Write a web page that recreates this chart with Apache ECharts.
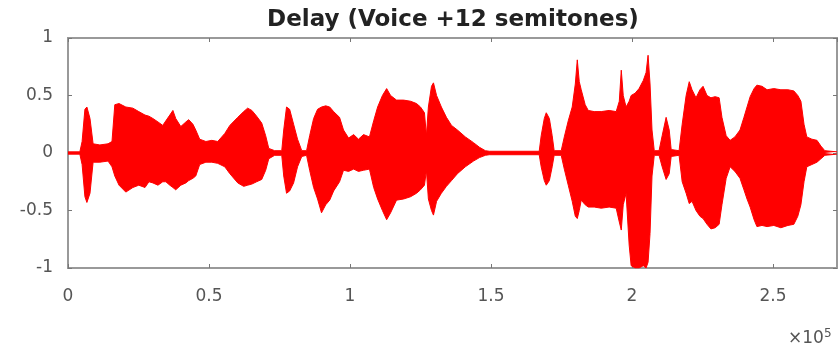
<!DOCTYPE html>
<html>
<head>
<meta charset="utf-8">
<script src="https://cdn.jsdelivr.net/npm/echarts@6/dist/echarts.min.js"></script>
<style>
html,body{margin:0;padding:0;background:#fff;}
#chart{width:839px;height:358px;}
</style>
</head>
<body>
<div id="chart"></div>
<script>
// Sample index (x) of each envelope point
const sampleIdx = [0,4200,5000,6000,6700,7800,8900,11300,14200,15600,16600,18100,20500,23000,25100,27300,28700,30100,31900,33600,34700,36100,37200,38200,40000,41800,42800,44300,45300,46700,48900,51000,53100,55600,57400,60200,62300,63700,65200,66900,68700,70100,71200,73300,75800,76500,77500,78600,80000,81400,82900,84600,85700,87100,88500,89900,91400,92800,94200,96300,97700,99500,101300,103000,104800,106900,108400,109800,111500,113000,114400,116500,119000,121500,123600,125000,126400,127100,127800,128900,129600,130700,132400,134200,136000,138100,140900,143800,145900,148000,149400,167100,167800,168900,169600,170700,171700,172400,174900,176000,177400,178800,179900,180600,181300,182000,183400,184500,186600,189100,191900,194400,195500,196200,196900,197900,199000,199700,201100,202500,204000,205000,205700,206400,207100,207900,209600,210700,212100,213200,213900,216700,217800,219200,220300,221300,222700,224100,225200,226600,228000,229500,230900,231900,233400,234800,236500,238300,239700,240800,241900,243300,244300,246100,247900,250300,252800,255300,257400,258800,259900,261000,262000,263800,265600,267000,268400,272700];
// Upper envelope of the waveform
const upperEnv = [0.01,0.01,0.1,0.38,0.40,0.30,0.08,0.07,0.08,0.10,0.42,0.43,0.40,0.39,0.36,0.33,0.32,0.30,0.27,0.24,0.28,0.33,0.37,0.30,0.23,0.27,0.29,0.25,0.20,0.12,0.10,0.11,0.10,0.17,0.24,0.31,0.36,0.39,0.37,0.32,0.26,0.15,0.04,0.02,0.02,0.20,0.40,0.38,0.25,0.12,0.02,0.02,0.15,0.30,0.38,0.40,0.41,0.40,0.36,0.31,0.20,0.13,0.16,0.12,0.16,0.14,0.28,0.40,0.50,0.56,0.50,0.46,0.46,0.45,0.43,0.40,0.35,0.15,0.40,0.58,0.61,0.50,0.40,0.31,0.24,0.20,0.14,0.09,0.05,0.02,0.015,0.015,0.15,0.30,0.35,0.30,0.15,0.02,0.02,0.14,0.28,0.40,0.60,0.81,0.62,0.55,0.42,0.37,0.36,0.36,0.37,0.36,0.45,0.72,0.50,0.40,0.45,0.50,0.52,0.56,0.63,0.70,0.85,0.60,0.20,0.02,0.02,0.15,0.31,0.20,0.03,0.02,0.25,0.50,0.62,0.55,0.48,0.55,0.58,0.50,0.48,0.49,0.48,0.31,0.15,0.11,0.14,0.20,0.31,0.40,0.49,0.56,0.59,0.58,0.55,0.56,0.55,0.55,0.54,0.50,0.45,0.25,0.14,0.12,0.11,0.06,0.02,0.01];
// Lower envelope of the waveform
const lowerEnv = [-0.01,-0.01,-0.1,-0.38,-0.43,-0.35,-0.08,-0.08,-0.07,-0.12,-0.20,-0.28,-0.34,-0.30,-0.28,-0.30,-0.25,-0.26,-0.28,-0.25,-0.25,-0.28,-0.30,-0.32,-0.28,-0.26,-0.24,-0.22,-0.20,-0.10,-0.08,-0.08,-0.09,-0.12,-0.18,-0.26,-0.29,-0.28,-0.27,-0.25,-0.23,-0.15,-0.05,-0.02,-0.02,-0.20,-0.35,-0.33,-0.26,-0.12,-0.03,-0.02,-0.15,-0.30,-0.40,-0.52,-0.45,-0.41,-0.33,-0.25,-0.15,-0.16,-0.14,-0.16,-0.15,-0.14,-0.30,-0.40,-0.50,-0.58,-0.52,-0.41,-0.40,-0.38,-0.35,-0.32,-0.28,-0.15,-0.40,-0.50,-0.54,-0.42,-0.35,-0.29,-0.24,-0.18,-0.12,-0.07,-0.04,-0.02,-0.015,-0.015,-0.12,-0.24,-0.28,-0.24,-0.12,-0.02,-0.02,-0.14,-0.28,-0.42,-0.55,-0.57,-0.50,-0.41,-0.45,-0.47,-0.47,-0.48,-0.47,-0.48,-0.60,-0.67,-0.45,-0.35,-0.80,-0.98,-1.0,-1.0,-0.98,-1.0,-0.95,-0.70,-0.20,-0.02,-0.02,-0.12,-0.23,-0.18,-0.03,-0.02,-0.25,-0.35,-0.44,-0.42,-0.50,-0.55,-0.57,-0.62,-0.66,-0.65,-0.62,-0.45,-0.22,-0.12,-0.16,-0.22,-0.32,-0.40,-0.47,-0.58,-0.64,-0.63,-0.64,-0.63,-0.65,-0.63,-0.62,-0.55,-0.45,-0.25,-0.12,-0.10,-0.08,-0.05,-0.02,-0.01];
const xTicks = [0, 50000, 100000, 150000, 200000, 250000];
const yTicks = [-1, -0.5, 0, 0.5, 1];
const titleText = 'Delay (Voice +12 semitones)';
const xMax = 272700;

const upperData = sampleIdx.map((x, i) => [x, upperEnv[i]]);
const lowerData = sampleIdx.map((x, i) => [x, lowerEnv[i]]);

const chart = echarts.init(document.getElementById('chart'), null, {renderer: 'canvas'});
const axisCol = '#999999';
const labelCol = '#555555';
const fontFam = 'DejaVu Sans';
function xAx(pos, showLabel) {
  return {
    type: 'value', min: 0, max: xMax, interval: 50000, position: pos,
    axisLine: {show: true, onZero: false, lineStyle: {color: axisCol, width: 2}},
    axisTick: {show: true, inside: true, length: 4, lineStyle: {color: '#777777', width: 1}},
    splitLine: {show: false},
    axisLabel: {show: showLabel, margin: 20, fontSize: 17, fontFamily: fontFam, color: labelCol, showMaxLabel: false,
      formatter: v => xTicks.indexOf(v) >= 0 ? String(v / 1e5) : ''}
  };
}
function yAx(pos, showLabel) {
  return {
    type: 'value', min: -1, max: 1, interval: 0.5, position: pos,
    axisLine: {show: true, onZero: false, lineStyle: {color: axisCol, width: 2}},
    axisTick: {show: true, inside: true, length: 4, lineStyle: {color: '#777777', width: 1}},
    splitLine: {show: false},
    axisLabel: {show: showLabel, margin: 15, fontSize: 17, fontFamily: fontFam, color: labelCol,
      formatter: v => yTicks.indexOf(v) >= 0 ? String(v) : ''}
  };
}
chart.setOption({
  animation: false,
  backgroundColor: '#ffffff',
  title: {
    text: titleText, left: 448, top: 4, textAlign: 'center',
    textStyle: {fontFamily: 'DejaVu Sans', fontWeight: 'bold', fontSize: 23, color: '#222'}
  },
  graphic: [{
    type: 'text', left: 788, top: 328,
    style: {rich: {a: {fontSize: 17, fontFamily: fontFam, fill: labelCol}, s: {fontSize: 12, fontFamily: fontFam, fill: labelCol, verticalAlign: 'top', padding: [0,0,10,0]}},
      text: '{a|×10}{s|5}'}
  }],
  grid: {left: 68, right: 2, top: 38, bottom: 90, show: true, borderColor: axisCol, borderWidth: 2},
  xAxis: [xAx('bottom', true), xAx('top', false)],
  yAxis: [yAx('left', true), yAx('right', false)],
  series: [
    {type: 'line', data: upperData, showSymbol: false, symbol: 'none',
     lineStyle: {color: '#ff0000', width: 1}, areaStyle: {color: '#ff0000', opacity: 1, origin: 0}},
    {type: 'line', data: lowerData, showSymbol: false, symbol: 'none',
     lineStyle: {color: '#ff0000', width: 1}, areaStyle: {color: '#ff0000', opacity: 1, origin: 0}}
  ]
});
</script>
</body>
</html>
